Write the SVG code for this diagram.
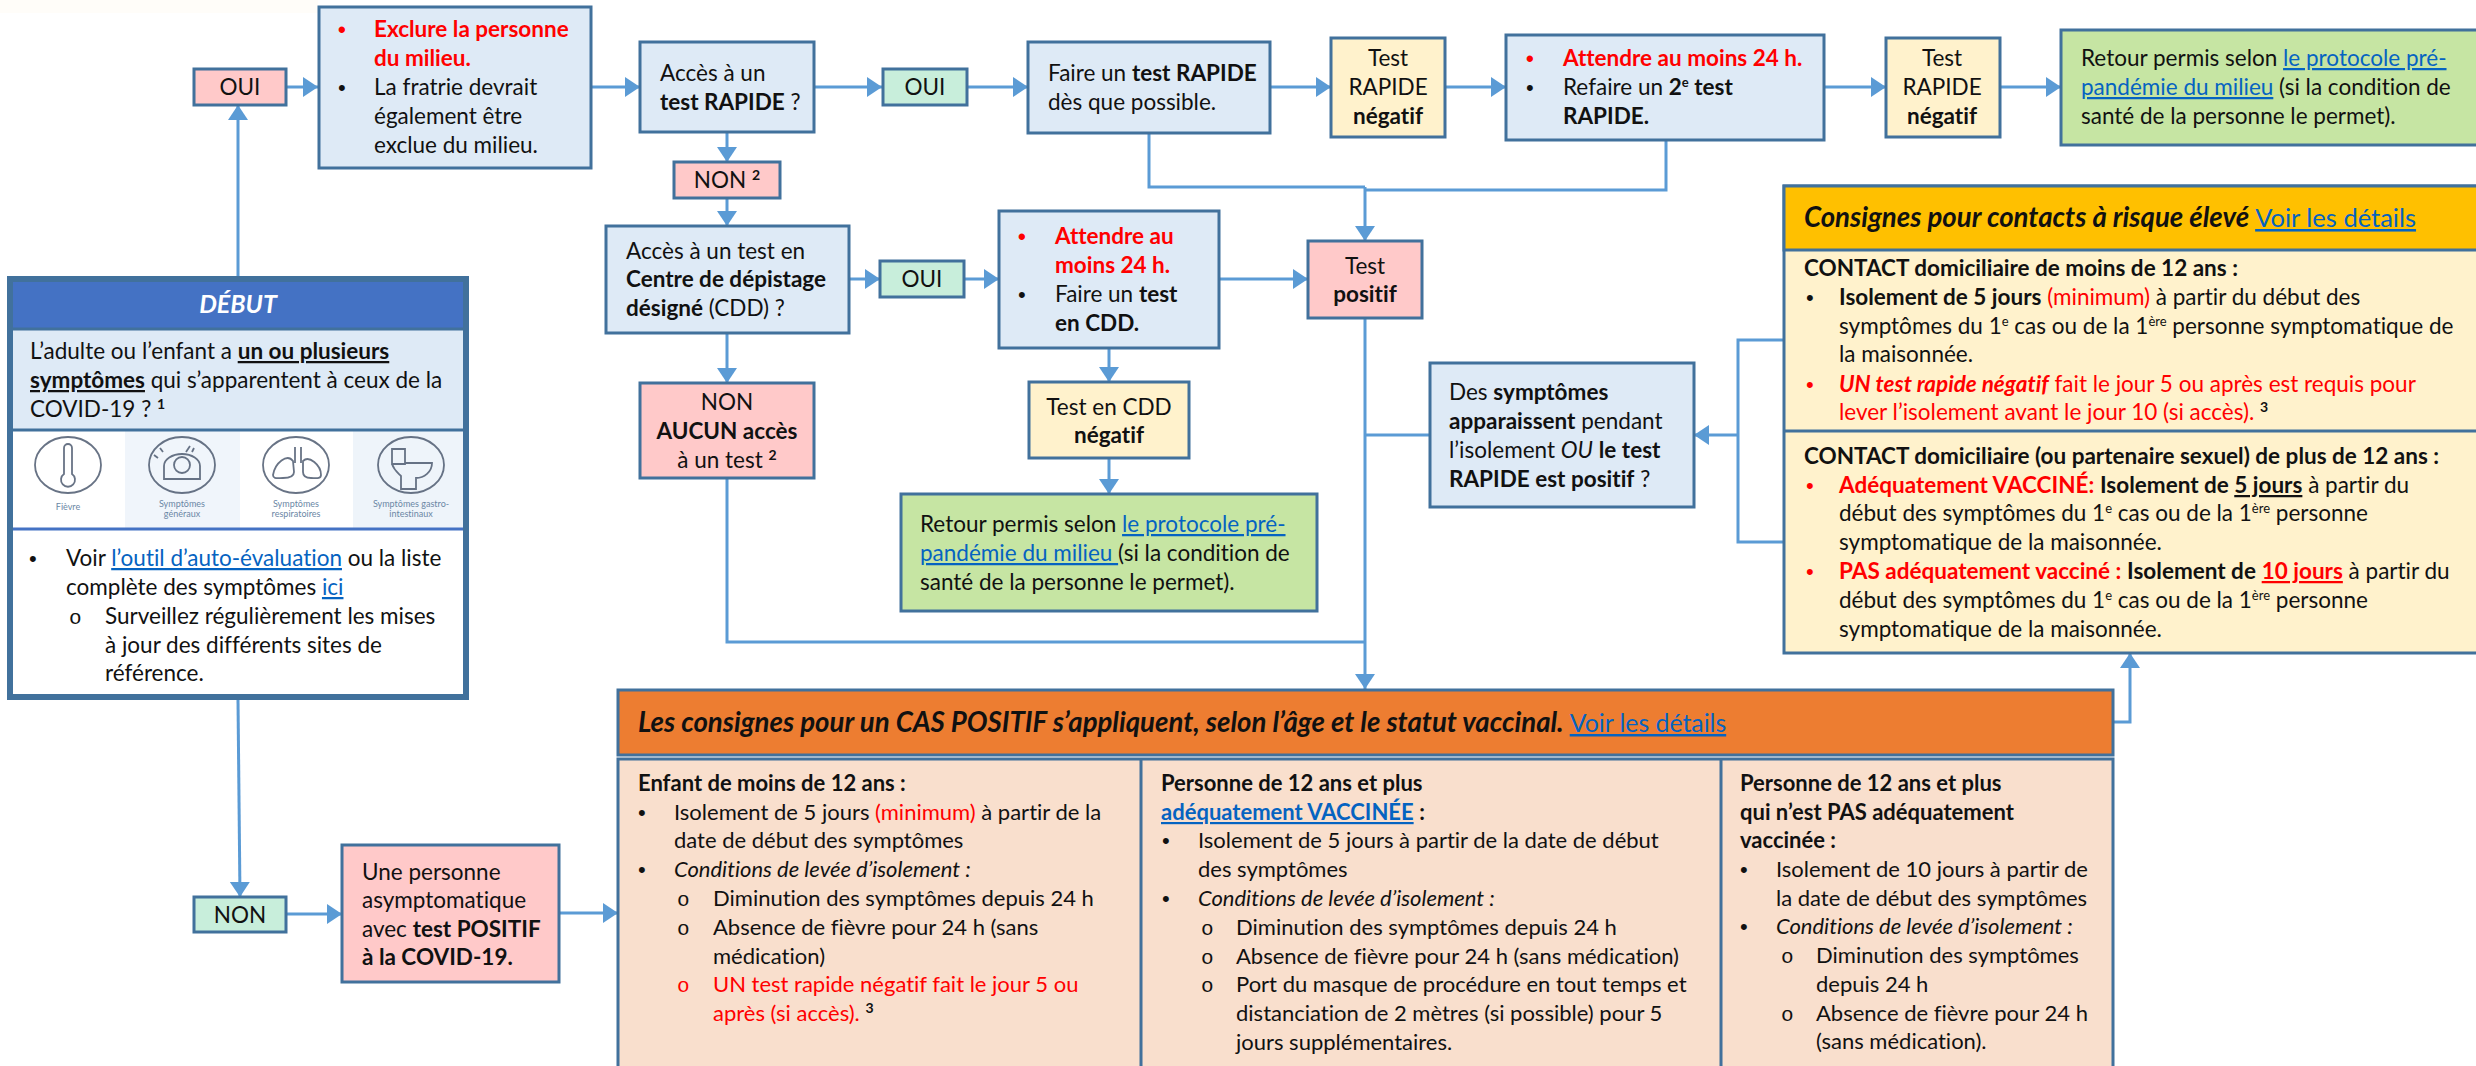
<svg xmlns="http://www.w3.org/2000/svg" width="2476" height="1066" viewBox="0 0 2476 1066">
<style>
text{font-family:Lato,"Noto Sans",sans-serif;font-size:22.5px;fill:#111;font-variant-ligatures:none}
.p text{font-size:22px}
.m{text-anchor:middle}
.b{font-weight:700}
.i{font-style:italic}
.r{fill:#f00}
.l{fill:#0563c1;text-decoration:underline}
.u{text-decoration:underline}
.h,.p text.h{font-size:27.6px;font-weight:700;font-style:italic}
.hl{font-style:normal;font-weight:400;font-size:25.5px}
text.dh{font-size:25px;font-weight:700;font-style:italic;fill:#fff}
.s{font-size:13px;baseline-shift:super;font-weight:400}
.sb{font-size:14px;font-weight:700;baseline-shift:super}
text.d,.p text.d{font-family:"Liberation Sans",sans-serif;font-size:22px}
text.o,.p text.o{font-family:"Liberation Mono",monospace;font-size:21px}
.box{stroke:#41719c;stroke-width:3}
.blue{fill:#deeaf6}.pink{fill:#ffc9c9}.mint{fill:#c8eedb}.yel{fill:#fff2cc}.grn{fill:#c6e5a3}.peach{fill:#f9dfcd}
.c{fill:none;stroke:#5b9bd5;stroke-width:3}
.ar{fill:none;stroke:#5b9bd5;stroke-width:3;marker-end:url(#a)}
.ic{fill:none;stroke:#4e5a70;stroke-width:1.8;opacity:.85}
text.t{font-size:9px;fill:#6b87a5;text-anchor:middle}
</style>
<defs>
<marker id="a" markerUnits="userSpaceOnUse" markerWidth="16" markerHeight="22" refX="15" refY="10" orient="auto"><path d="M0 0L15 10L0 20Z" fill="#5b9bd5"/></marker>
</defs>
<rect width="2476" height="1066" fill="#fff"/>
<rect width="318" height="13" fill="#fffdf9"/>

<g id="connectors">
<path class="ar" d="M238 276V105"/>
<path class="ar" d="M286 87H318"/>
<path class="ar" d="M591 87H640"/>
<path class="ar" d="M814 87H882"/>
<path class="ar" d="M967 87H1028"/>
<path class="ar" d="M1270 87H1331"/>
<path class="ar" d="M1446 87H1506"/>
<path class="ar" d="M1824 87H1886"/>
<path class="ar" d="M2000 87H2061"/>
<path class="ar" d="M727 132V162"/>
<path class="ar" d="M727 198V226"/>
<path class="ar" d="M727 333V383"/>
<path class="ar" d="M849 279H880"/>
<path class="ar" d="M965 279H999"/>
<path class="ar" d="M1219 279H1308"/>
<path class="ar" d="M1109 348V382"/>
<path class="ar" d="M1109 458V494"/>
<path class="c" d="M1149 133V187H1365"/>
<path class="c" d="M1666 140V190H1365"/>
<path class="ar" d="M1365 187V241"/>
<path class="ar" d="M1365 318V689"/>
<path class="c" d="M1365 435H1430"/>
<path class="c" d="M727 478V642H1365"/>
<path class="c" d="M1784 340H1738V542H1784"/>
<path class="ar" d="M1738 435H1694"/>
<path class="ar" d="M238 700L240 897"/>
<path class="ar" d="M286 914H342"/>
<path class="ar" d="M559 913H618"/>
<path class="ar" d="M2113 722H2130V653"/>
</g>

<g id="debut">
<rect x="9" y="278" width="458" height="420" fill="#fff"/>
<rect x="9" y="278" width="458" height="51" fill="#4472c4"/>
<rect x="13" y="329" width="450" height="100" class="blue"/>
<rect x="125" y="431" width="115" height="97" fill="#f0f5fb"/>
<rect x="353" y="431" width="110" height="97" fill="#eef4fa"/>
<path d="M11 430H465" stroke="#41719c" stroke-width="3"/>
<path d="M11 529H465" stroke="#4472c4" stroke-width="3"/>
<path d="M11 329H465" stroke="#41719c" stroke-width="3"/>
<rect x="10" y="279" width="456" height="418" fill="none" stroke="#41719c" stroke-width="6"/>
<text class="dh m" x="238" y="313">DÉBUT</text>
<text x="30" y="359">L’adulte ou l’enfant a <tspan class="b u">un ou plusieurs</tspan></text>
<text x="30" y="388"><tspan class="b u">symptômes</tspan> qui s’apparentent à ceux de la</text>
<text x="30" y="417">COVID-19 ? <tspan class="sb">1</tspan></text>
<g>
<ellipse class="ic" cx="68" cy="465" rx="33" ry="28"/>
<path class="ic" d="M64 448a4 4 0 0 1 8 0V474a7 7 0 1 1-8 0Z"/>
<ellipse class="ic" cx="182" cy="465" rx="33" ry="28"/>
<circle class="ic" cx="182" cy="465" r="8"/>
<path class="ic" d="M164 479V466a18 12 0 0 1 36 0V479H164ZM158 458l-4-3M163 452l-3-4M186 452l4-6M192 452l2-4"/>
<ellipse class="ic" cx="296" cy="465" rx="33" ry="28"/>
<path class="ic" d="M295 447V463M301 447V463M293 461c-6-8-18 2-20 14c0 4 4 3 10 3c8 0 11-2 11-6ZM303 461c6-6 18 4 18 14c0 4-5 3-10 3c-6 0-8-2-8-6Z"/>
<ellipse class="ic" cx="411" cy="465" rx="33" ry="28"/>
<path class="ic" d="M392 449H405V464H392ZM405 463H432C432 472 424 478 416 478V489H401V476C397 472 394 470 392 464"/>
<text class="t" x="68" y="510">Fièvre</text>
<text class="t" x="182" y="507">Symptômes</text><text class="t" x="182" y="517">généraux</text>
<text class="t" x="296" y="507">Symptômes</text><text class="t" x="296" y="517">respiratoires</text>
<text class="t" x="411" y="507">Symptômes gastro-</text><text class="t" x="411" y="517">intestinaux</text>
</g>
<text class="d" x="29" y="566">•</text>
<text x="66" y="566">Voir <tspan class="l">l’outil d’auto-évaluation</tspan> ou la liste</text>
<text x="66" y="595">complète des symptômes <tspan class="l">ici</tspan></text>
<text class="o" x="69" y="624">o</text>
<text x="105" y="624">Surveillez régulièrement les mises</text>
<text x="105" y="653">à jour des différents sites de</text>
<text x="105" y="681">référence.</text>
</g>

<g id="oui1"><rect class="box pink" x="194" y="69" width="92" height="36"/><text class="m" x="240" y="95">OUI</text></g>
<g id="exclure"><rect class="box blue" x="319" y="7" width="272" height="161"/>
<text class="d r b" x="338" y="37">•</text><text class="r b" x="374" y="37">Exclure la personne</text>
<text class="r b" x="374" y="66">du milieu.</text>
<text class="d" x="338" y="95">•</text><text x="374" y="95">La fratrie devrait</text>
<text x="374" y="124">également être</text>
<text x="374" y="153">exclue du milieu.</text></g>
<g id="acces-rapide"><rect class="box blue" x="640" y="42" width="174" height="90"/>
<text x="660" y="81">Accès à un</text><text x="660" y="110"><tspan class="b">test RAPIDE</tspan> ?</text></g>
<g id="non2"><rect class="box pink" x="674" y="162" width="106" height="36"/><text class="m" x="727" y="188">NON <tspan class="sb">2</tspan></text></g>
<g id="acces-cdd"><rect class="box blue" x="606" y="226" width="243" height="107"/>
<text x="626" y="259">Accès à un test en</text><text class="b" x="626" y="287">Centre de dépistage</text><text x="626" y="316"><tspan class="b">désigné</tspan> (CDD) ?</text></g>
<g id="non-aucun"><rect class="box pink" x="640" y="383" width="174" height="95"/>
<text class="m" x="727" y="410">NON</text><text class="m b" x="727" y="439">AUCUN accès</text><text class="m" x="727" y="468">à un test <tspan class="sb">2</tspan></text></g>
<g id="oui2"><rect class="box mint" x="883" y="69" width="84" height="36"/><text class="m" x="925" y="95">OUI</text></g>
<g id="faire"><rect class="box blue" x="1028" y="42" width="242" height="91"/>
<text x="1048" y="81">Faire un <tspan class="b">test RAPIDE</tspan></text><text x="1048" y="110">dès que possible.</text></g>
<g id="neg1"><rect class="box yel" x="1331" y="38" width="114" height="99"/>
<text class="m" x="1388" y="66">Test</text><text class="m" x="1388" y="95">RAPIDE</text><text class="m b" x="1388" y="124">négatif</text></g>
<g id="oui3"><rect class="box mint" x="880" y="261" width="84" height="36"/><text class="m" x="922" y="287">OUI</text></g>
<g id="attendre-cdd"><rect class="box blue" x="999" y="211" width="220" height="137"/>
<text class="d r b" x="1018" y="244">•</text><text class="r b" x="1055" y="244">Attendre au</text><text class="r b" x="1055" y="273">moins 24 h.</text>
<text class="d" x="1018" y="302">•</text><text x="1055" y="302">Faire un <tspan class="b">test</tspan></text><text class="b" x="1055" y="331">en CDD.</text></g>
<g id="positif"><rect class="box pink" x="1308" y="241" width="114" height="77"/>
<text class="m" x="1365" y="274">Test</text><text class="m b" x="1365" y="302">positif</text></g>
<g id="neg-cdd"><rect class="box yel" x="1029" y="382" width="160" height="76"/>
<text class="m" x="1109" y="415">Test en CDD</text><text class="m b" x="1109" y="443">négatif</text></g>
<g id="retour1"><rect class="box grn" x="901" y="494" width="416" height="117"/>
<text x="920" y="532">Retour permis selon <tspan class="l">le protocole pré-</tspan></text>
<text x="920" y="561"><tspan class="l">pandémie du milieu </tspan>(si la condition de</text>
<text x="920" y="590">santé de la personne le permet).</text></g>
<g id="attendre2"><rect class="box blue" x="1506" y="35" width="318" height="105"/>
<text class="d r b" x="1526" y="66">•</text><text class="r b" x="1563" y="66">Attendre au moins 24 h.</text>
<text class="d" x="1526" y="95">•</text><text x="1563" y="95">Refaire un <tspan class="b">2<tspan class="s" style="font-weight:700">e</tspan> test</tspan></text><text class="b" x="1563" y="124">RAPIDE.</text></g>
<g id="neg2"><rect class="box yel" x="1886" y="38" width="114" height="99"/>
<text class="m" x="1942" y="66">Test</text><text class="m" x="1942" y="95">RAPIDE</text><text class="m b" x="1942" y="124">négatif</text></g>
<g id="retour2"><rect class="box grn" x="2061" y="30" width="420" height="115"/>
<text x="2081" y="66">Retour permis selon <tspan class="l">le protocole pré-</tspan></text>
<text x="2081" y="95"><tspan class="l">pandémie du milieu</tspan> (si la condition de</text>
<text x="2081" y="124">santé de la personne le permet).</text></g>
<g id="symptomes"><rect class="box blue" x="1430" y="363" width="264" height="144"/>
<text x="1449" y="400">Des <tspan class="b">symptômes</tspan></text><text x="1449" y="429"><tspan class="b">apparaissent</tspan> pendant</text>
<text x="1449" y="458">l’isolement <tspan class="i">OU</tspan> <tspan class="b">le test</tspan></text><text x="1449" y="487"><tspan class="b">RAPIDE est positif</tspan> ?</text></g>

<g id="consignes-contacts">
<rect class="box yel" x="1784" y="186" width="700" height="467"/>
<rect class="box" x="1784" y="186" width="700" height="64" fill="#ffc000"/>
<path class="box" d="M1784 431H2480" fill="none"/>
<text class="h" x="1804" y="227">Consignes pour contacts à risque élevé <tspan class="l hl">Voir les détails</tspan></text>
<text class="b" x="1804" y="276">CONTACT domiciliaire de moins de 12 ans :</text>
<text class="d" x="1806" y="305">•</text><text x="1839" y="305"><tspan class="b">Isolement de 5 jours</tspan> <tspan class="r">(minimum)</tspan> à partir du début des</text>
<text x="1839" y="334">symptômes du 1<tspan class="s">e</tspan> cas ou de la 1<tspan class="s">ère</tspan> personne symptomatique de</text>
<text x="1839" y="362">la maisonnée.</text>
<text class="d r" x="1806" y="392">•</text><text class="r" x="1839" y="392"><tspan class="r b i">UN test rapide négatif</tspan> fait le jour 5 ou après est requis pour</text>
<text class="r" x="1839" y="420">lever l’isolement avant le jour 10 (si accès). <tspan class="sb" style="fill:#111">3</tspan></text>
<text class="b" x="1804" y="464">CONTACT domiciliaire (ou partenaire sexuel) de plus de 12 ans :</text>
<text class="d r" x="1806" y="493">•</text><text x="1839" y="493"><tspan class="r b">Adéquatement VACCINÉ:</tspan> <tspan class="b">Isolement de <tspan class="u">5 jours</tspan></tspan> à partir du</text>
<text x="1839" y="521">début des symptômes du 1<tspan class="s">e</tspan> cas ou de la 1<tspan class="s">ère</tspan> personne</text>
<text x="1839" y="550">symptomatique de la maisonnée.</text>
<text class="d r" x="1806" y="579">•</text><text x="1839" y="579"><tspan class="r b">PAS adéquatement vacciné :</tspan> <tspan class="b">Isolement de</tspan> <tspan class="r b u">10 jours</tspan> à partir du</text>
<text x="1839" y="608">début des symptômes du 1<tspan class="s">e</tspan> cas ou de la 1<tspan class="s">ère</tspan> personne</text>
<text x="1839" y="637">symptomatique de la maisonnée.</text>
</g>

<g id="consignes-positif" class="p">
<rect class="box peach" x="618" y="759" width="1495" height="320"/>
<path class="box" d="M1141 759V1079M1721 759V1079" fill="none"/>
<rect class="box" x="618" y="690" width="1495" height="65" fill="#ed7d31"/>
<text class="h" x="638" y="732">Les consignes pour un CAS POSITIF s’appliquent, selon l’âge et le statut vaccinal. <tspan class="l" style="font-style:normal;font-weight:400;font-size:24.8px">Voir les détails</tspan></text>
<text class="b" x="638" y="791">Enfant de moins de 12 ans :</text>
<text class="d" x="638" y="820">•</text><text x="674" y="820">Isolement de 5 jours <tspan class="r">(minimum)</tspan> à partir de la</text>
<text x="674" y="848">date de début des symptômes</text>
<text class="d" x="638" y="877">•</text><text class="i" x="674" y="877">Conditions de levée d’isolement :</text>
<text class="o" x="677" y="906">o</text><text x="713" y="906">Diminution des symptômes depuis 24 h</text>
<text class="o" x="677" y="935">o</text><text x="713" y="935">Absence de fièvre pour 24 h (sans</text>
<text x="713" y="964">médication)</text>
<text class="o r" x="677" y="992">o</text><text class="r" x="713" y="992">UN test rapide négatif fait le jour 5 ou</text>
<text class="r" x="713" y="1021">après (si accès). <tspan class="sb" style="fill:#111">3</tspan></text>

<text class="b" x="1161" y="791">Personne de 12 ans et plus</text>
<text x="1161" y="820"><tspan class="l b">adéquatement VACCINÉE</tspan> <tspan class="b">:</tspan></text>
<text class="d" x="1162" y="848">•</text><text x="1198" y="848">Isolement de 5 jours à partir de la date de début</text>
<text x="1198" y="877">des symptômes</text>
<text class="d" x="1162" y="906">•</text><text class="i" x="1198" y="906">Conditions de levée d’isolement :</text>
<text class="o" x="1201" y="935">o</text><text x="1236" y="935">Diminution des symptômes depuis 24 h</text>
<text class="o" x="1201" y="964">o</text><text x="1236" y="964">Absence de fièvre pour 24 h (sans médication)</text>
<text class="o" x="1201" y="992">o</text><text x="1236" y="992">Port du masque de procédure en tout temps et</text>
<text x="1236" y="1021">distanciation de 2 mètres (si possible) pour 5</text>
<text x="1236" y="1050">jours supplémentaires.</text>

<text class="b" x="1740" y="791">Personne de 12 ans et plus</text>
<text class="b" x="1740" y="820">qui n’est PAS adéquatement</text>
<text class="b" x="1740" y="848">vaccinée :</text>
<text class="d" x="1740" y="877">•</text><text x="1776" y="877">Isolement de 10 jours à partir de</text>
<text x="1776" y="906">la date de début des symptômes</text>
<text class="d" x="1740" y="934">•</text><text class="i" x="1776" y="934">Conditions de levée d’isolement :</text>
<text class="o" x="1781" y="963">o</text><text x="1816" y="963">Diminution des symptômes</text>
<text x="1816" y="992">depuis 24 h</text>
<text class="o" x="1781" y="1021">o</text><text x="1816" y="1021">Absence de fièvre pour 24 h</text>
<text x="1816" y="1049">(sans médication).</text>
</g>

<g id="non3">
<rect class="box mint" x="194" y="897" width="92" height="35"/><text class="m" x="240" y="923">NON</text>
</g>
<g id="asymptomatique"><rect class="box pink" x="342" y="845" width="217" height="137"/>
<text x="362" y="880">Une personne</text><text x="362" y="908">asymptomatique</text>
<text x="362" y="937">avec <tspan class="b">test POSITIF</tspan></text><text class="b" x="362" y="965">à la COVID-19.</text></g>
</svg>
